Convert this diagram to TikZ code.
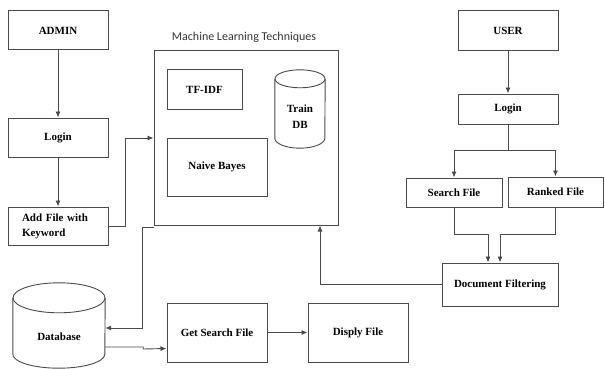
\documentclass[tikz,border=0pt]{standalone}
\usepackage{fontspec}
\setmainfont{Liberation Serif}
\newfontfamily\calib{Carlito}
\usetikzlibrary{arrows.meta,calc}
\definecolor{ln}{HTML}{4A4A4A}
\tikzset{
  box/.style={draw=ln, line width=1pt, rectangle, inner sep=0pt, align=center, font=\bfseries\fontsize{11}{15}\selectfont},
  arr/.style={draw=ln, line width=0.9pt, -{Latex[length=6pt,width=5pt]}},
  ln/.style={draw=ln, line width=0.9pt},
  dbn/.style={rectangle, inner sep=0pt, align=center, font=\bfseries\fontsize{11}{16}\selectfont}
}
\begin{document}
\begin{tikzpicture}[x=1pt,y={(0pt,-1pt)}]
\useasboundingbox (0,0) rectangle (605,369);
% admin side
\node[box, minimum width=100pt, minimum height=39pt] (admin) at (58,30.5) {ADMIN};
\node[box, minimum width=100pt, minimum height=39pt] (login1) at (58,137.5) {Login};
\node[box, minimum width=100pt, minimum height=38pt, align=left, text width=72pt] (addfile) at (58,226) {Add File with\\Keyword};
% ML box
\node[draw=ln, line width=1pt, rectangle, inner sep=0pt, minimum width=184pt, minimum height=174pt] (ml) at (246,138) {};
\node[font=\calib\fontsize{12}{14}\selectfont, text=black!80] (mltitle) at (244,37) {Machine Learning Techniques};
\node[box, minimum width=75pt, minimum height=39pt] (tfidf) at (204.5,89.5) {TF-IDF};
\node[box, minimum width=100pt, minimum height=58pt] (nb) at (217,167) {Naive Bayes};
% Train DB cylinder
\node[dbn, minimum width=50pt, minimum height=78pt] (train) at (300,109) {};
\draw[ln] ($(train.north)+(0,9)$) ellipse [x radius=25pt, y radius=9pt];
\draw[ln] ($(train.north west)+(0,9)$) -- ($(train.south west)+(0,-10)$) arc[start angle=180, end angle=360, x radius=25pt, y radius=10pt] -- ($(train.north east)+(0,9)$);
\node[dbn] (traintext) at (300,117) {Train\\DB};
% user side
\node[box, minimum width=100pt, minimum height=40pt] (user) at (508,31) {USER};
\node[box, minimum width=100pt, minimum height=30pt] (ulogin) at (508,109) {Login};
\node[box, minimum width=96pt, minimum height=29pt] (search) at (454,192.5) {Search File};
\node[box, minimum width=95pt, minimum height=30pt] (ranked) at (555.5,192) {Ranked File};
\node[box, minimum width=116pt, minimum height=43pt] (docf) at (500,284.5) {Document Filtering};
% bottom
\node[dbn, minimum width=92pt, minimum height=85pt] (db) at (59,325.5) {};
\draw[ln] ($(db.north)+(0,15)$) ellipse [x radius=46pt, y radius=15pt];
\draw[ln] ($(db.north west)+(0,15)$) -- ($(db.south west)+(0,-14)$) arc[start angle=180, end angle=360, x radius=46pt, y radius=14pt] -- ($(db.north east)+(0,15)$);
\node[dbn] (dbtext) at (59,337) {Database};
\node[box, minimum width=100pt, minimum height=59pt] (gsf) at (217,332.5) {Get Search File};
\node[box, minimum width=100pt, minimum height=59pt] (disp) at (358,332.5) {Disply File};
% connectors
\draw[arr] (admin.south) -- (login1.north);
\draw[arr] (login1.south) -- (addfile.north);
\draw[arr] (addfile.east) -- ++(17,0) |- (ml.west);
\draw[arr] (user.south) -- (ulogin.north);
\draw[ln] (ulogin.south) -- ++(0,26) coordinate (split);
\draw[arr] (split) -| (search.north);
\draw[arr] (split) -| (ranked.north);
\draw[arr] (search.south) -- ++(0,27) -| ($(docf.north)+(-12,0)$);
\draw[arr] (ranked.south) -- ++(0,27) -| (docf.north);
\draw[arr] (docf.west) -| ($(ml.south)+(74,0)$);
\draw[arr] ($(ml.south west)+(0,1.5)$) -- ++(-11,0) |- ($(db.east)+(0,2.5)$);
\draw[arr] ($(db.east)+(0,21.5)$) -- ++(38,0) -- ++(0,2) -- ($(gsf.west)+(0,16)$);
\draw[arr] (gsf.east) -- (disp.west);
\end{tikzpicture}
\end{document}
